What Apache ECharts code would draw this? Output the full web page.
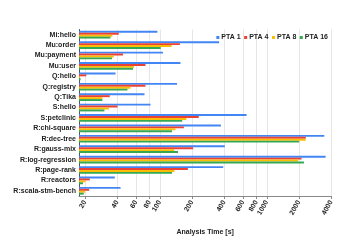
<!DOCTYPE html>
<html><head><meta charset="utf-8">
<script src="https://cdn.jsdelivr.net/npm/echarts@6/dist/echarts.min.js"></script>
<style>html,body{margin:0;padding:0;background:#fff}#c{width:344px;height:249px}</style>
</head><body><div id="c"></div>
<script>
const categories = ["Mi:hello","Mu:order","Mu:payment","Mu:user","Q:hello","Q:registry","Q:Tika","S:hello","S:petclinic","R:chi-square","R:dec-tree","R:gauss-mix","R:log-regression","R:page-rank","R:reactors","R:scala-stm-bench"];
const pta1  = [95, 358, 107, 156, 38.6, 145, 72, 82, 646, 372, 3440, 405, 3540, 391, 38, 43];
const pta4  = [41.4, 154, 45.4, 73.5, 20.6, 73.5, 34.1, 40.3, 231, 168, 2310, 205, 2110, 183, 22.2, 21.9];
const pta8  = [36.1, 129, 37.1, 57.5, 18.0, 53.2, 29.1, 33.6, 177, 140, 2300, 136, 1960, 137, 20.2, 20.0];
const pta16 = [34.6, 102, 35.8, 56.3, 18.2, 49.9, 29.1, 30.4, 162, 130, 2005, 148, 2220, 130, 19.2, 19.5];
const tickValues = [20, 40, 60, 80, 100, 200, 400, 600, 800, 1000, 2000, 4000];
const seriesNames = ["PTA 1", "PTA 4", "PTA 8", "PTA 16"];
const colors = ["#4285F4", "#EA4335", "#FBBC04", "#34A853"];
const axisMin = 17.6, axisMax = 4000;

const lg = v => Math.log10(v);
const FONT = "Liberation Sans, Arial, sans-serif";
const chart = echarts.init(document.getElementById('c'), null, {renderer: 'canvas'});
const allData = [pta1, pta4, pta8, pta16];
chart.setOption({
  animation: false,
  color: colors,
  textStyle: {fontFamily: FONT},
  grid: {left: 79, right: 12.7, top: 29.5, bottom: 53, containLabel: false},
  legend: {
    data: seriesNames, right: 11, top: 29, itemWidth: 3, itemHeight: 3, itemGap: 3.5,
    icon: 'rect',
    textStyle: {fontSize: 7, fontWeight: 'bold', color: '#222', fontFamily: FONT, padding: [0,0,0,-3]}
  },
  xAxis: {
    type: 'value', min: lg(axisMin), max: lg(axisMax),
    name: 'Analysis Time [s]', nameLocation: 'middle', nameGap: 33,
    nameTextStyle: {fontSize: 7, fontWeight: 'bold', color: '#222', fontFamily: FONT},
    axisLine: {show: true, lineStyle: {color: '#888', width: 1}},
    axisTick: {show: true, length: 3, customValues: tickValues.map(lg), lineStyle: {color: '#888'}},
    axisLabel: {
      customValues: tickValues.map(lg), rotate: 60, fontSize: 7, fontWeight: 'bold', color: '#222',
      fontFamily: FONT, margin: 5,
      formatter: v => String(Math.round(Math.pow(10, v)))
    },
    splitLine: {show: true, lineStyle: {color: '#e6e6e6', width: 1}}
  },
  yAxis: {
    type: 'category', data: categories, inverse: true,
    axisLine: {show: true, lineStyle: {color: '#555'}},
    axisTick: {show: false},
    axisLabel: {fontSize: 7, fontWeight: 'bold', color: '#222', fontFamily: FONT, margin: 3, interval: 0},
    splitLine: {show: false}
  },
  series: seriesNames.map((n, i) => ({
    name: n, type: 'bar', barGap: '0%', barCategoryGap: '26%',
    data: allData[i].map(lg), clip: true,
    itemStyle: {color: colors[i]}
  }))
});
</script></body></html>
